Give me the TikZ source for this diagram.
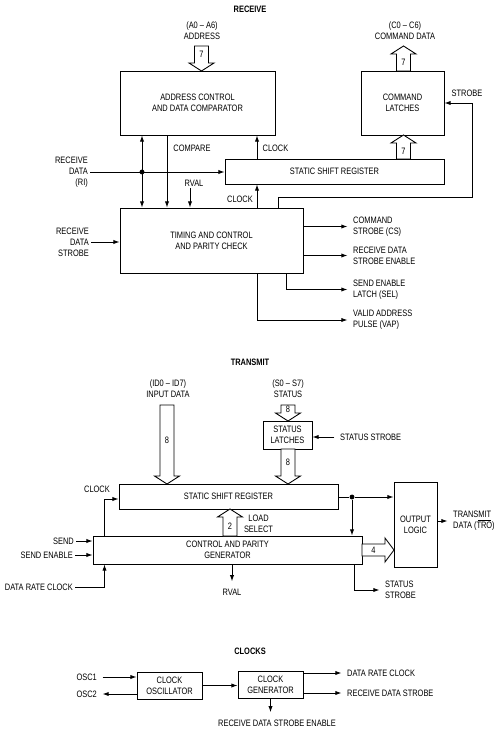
\documentclass[tikz,border=0pt]{standalone}
\usepackage{fontspec}
\setmainfont{Liberation Sans}[FakeStretch=0.8]
\usetikzlibrary{arrows.meta}

% hollow bus arrows: name, position, tail, tip, width label
\newcommand{\busdn}[5]{%
  \draw[fill=white] ({#2-7},#3) -- ({#2-7},{#4-8}) -- ({#2-12.5},{#4-8}) -- (#2,#4)
    -- ({#2+12.5},{#4-8}) -- ({#2+7},{#4-8}) -- ({#2+7},#3) -- cycle;
  \node (#1) at (#2,{(#3+#4-8)/2}) {#5};}
\newcommand{\busup}[5]{%
  \draw[fill=white] ({#2-7},#3) -- ({#2-7},{#4+8}) -- ({#2-12.5},{#4+8}) -- (#2,#4)
    -- ({#2+12.5},{#4+8}) -- ({#2+7},{#4+8}) -- ({#2+7},#3) -- cycle;
  \node (#1) at (#2,{(#3+#4+8)/2}) {#5};}
\newcommand{\busrt}[5]{%
  \draw[fill=white] (#3,{#2-6}) -- ({#4-9},{#2-6}) -- ({#4-9},{#2-12}) -- (#4,#2)
    -- ({#4-9},{#2+12}) -- ({#4-9},{#2+6}) -- (#3,{#2+6}) -- cycle;
  \node (#1) at ({(#3+#4-9)/2},#2) {#5};}

\begin{document}
\begin{tikzpicture}[x=0.02cm, y=-0.02cm, line width=0.5pt,
    >={Latex[length=3.5pt,width=2.4pt]},
    every node/.style={font=\fontsize{5.3}{6.3}\selectfont},
    blk/.style={draw, align=center, inner sep=0pt},
    lbl/.style={inner sep=1pt, align=center},
    ttl/.style={inner sep=0pt, font=\fontsize{5.3}{6.3}\selectfont\bfseries},
    junc/.style={circle, fill, inner sep=0pt, minimum size=2.8pt}]
  \useasboundingbox (0,0) rectangle (500,729);

  % receive
  \node[ttl] (trcv) at (250,9) {RECEIVE};
  \node[lbl] (adin) at (202,31) {(A0 -- A6)\\ADDRESS};
  \node[lbl] (cdout) at (405,31) {(C0 -- C6)\\COMMAND DATA};
  \node[blk, minimum width=3.1cm, minimum height=1.28cm] (addr) at (197.5,103) {ADDRESS CONTROL\\AND DATA COMPARATOR};
  \node[blk, minimum width=1.66cm, minimum height=1.28cm] (latch) at (402.5,103) {COMMAND\\LATCHES};
  \node[blk, minimum width=4.38cm, minimum height=0.5cm] (rsr) at (334.5,171.5) {STATIC SHIFT REGISTER};
  \node[blk, minimum width=3.66cm, minimum height=1.3cm] (timing) at (211.5,240.5) {TIMING AND CONTROL\\AND PARITY CHECK};
  \node[lbl, anchor=east, align=right] (ri) at (90,172) {RECEIVE\\DATA\\(RI)};
  \node[lbl, anchor=east, align=right] (rds) at (91,242) {RECEIVE\\DATA\\STROBE};
  \node[lbl] (cmp) at (192,148) {COMPARE};
  \node[lbl] (ck1) at (275.5,148) {CLOCK};
  \node[lbl] (ck2) at (240,199) {CLOCK};
  \node[lbl] (rv1) at (194,183) {RVAL};
  \node[lbl] (stb) at (467,93) {STROBE};
  \node[lbl, anchor=west, align=left] (cs) at (351,226.5) {COMMAND\\STROBE (CS)};
  \node[lbl, anchor=west, align=left] (rdse) at (351,255.5) {RECEIVE DATA\\STROBE ENABLE};
  \node[lbl, anchor=west, align=left] (sel) at (351,289.5) {SEND ENABLE\\LATCH (SEL)};
  \node[lbl, anchor=west, align=left] (vap) at (351,320) {VALID ADDRESS\\PULSE (VAP)};
  \node[junc] (j1) at (142,172) {};
  \coordinate (xcmp) at (167,0);
  \coordinate (xrv) at (190,0);
  \coordinate (xclk) at (257,0);
  \coordinate (xret) at (278,0);
  \coordinate (xsel) at (286,0);
  \coordinate (rtn) at (472,197);

  \busdn{b7a}{201.5}{46}{71}{7}
  \busup{b7b}{403.5}{71}{46}{7}
  \busup{b7c}{403.5}{159}{135}{7}

  \draw[->] (ri.east) -- (ri.east -| rsr.west);
  \draw[<->] (j1 |- addr.south) -- (j1 |- timing.north);
  \draw[->] (addr.south -| xcmp) -- (timing.north -| xcmp);
  \draw[->] (rv1.south -| xrv) -- (timing.north -| xrv);
  \draw[->] (timing.north -| xclk) -- (rsr.south -| xclk);
  \draw[->] (rsr.north -| xclk) -- (addr.south -| xclk);
  \draw[->] (timing.north -| xret) |- (rtn) |- (latch.east);
  \draw[->] (rds.east) -- (rds.east -| timing.west);
  \draw[->, shorten >=2pt] (timing.east |- cs.west) -- (cs.west);
  \draw[->, shorten >=2pt] (timing.east |- rdse.west) -- (rdse.west);
  \draw[->, shorten >=2pt] (timing.south -| xsel) |- (sel.west);
  \draw[->, shorten >=2pt] (timing.south -| xclk) |- (vap.west);

  % transmit
  \node[ttl] (ttx) at (250,362) {TRANSMIT};
  \node[lbl] (idin) at (168,388.5) {(ID0 -- ID7)\\INPUT DATA};
  \node[lbl] (stin) at (288,389) {(S0 -- S7)\\STATUS};
  \node[blk, minimum width=0.98cm, minimum height=0.56cm] (slat) at (287.5,435) {STATUS\\LATCHES};
  \node[lbl, anchor=west] (ststr) at (338,437) {STATUS STROBE};
  \node[blk, minimum width=4.38cm, minimum height=0.5cm] (tsr) at (228.5,496.5) {STATIC SHIFT REGISTER};
  \node[blk, minimum width=5.38cm, minimum height=0.56cm] (cpg) at (227.5,550) {CONTROL AND PARITY\\GENERATOR};
  \node[blk, minimum width=0.86cm, minimum height=1.7cm] (olog) at (415.5,524.5) {OUTPUT\\LOGIC};
  \node[lbl] (ck3) at (97,489) {CLOCK};
  \node[lbl] (ldsel) at (258.5,524) {LOAD\\SELECT};
  \node[lbl, anchor=east] (send) at (76,541) {SEND};
  \node[lbl, anchor=east] (sen) at (75,555) {SEND ENABLE};
  \node[lbl, anchor=east] (drc) at (75,587) {DATA RATE CLOCK};
  \node[lbl] (rv2) at (232,592) {RVAL};
  \node[lbl, anchor=west, align=left] (tro) at (451,521) {TRANS\underline{MIT}\\DATA (TRO)};
  \node[lbl, anchor=west, align=left] (sst) at (383,590) {STATUS\\STROBE};
  \node[junc] (j2) at (352,497) {};
  \coordinate (xck) at (104.5,0);
  \coordinate (xss) at (354,0);

  \busdn{b8a}{167}{405}{484}{8}
  \busdn{b8b}{288}{405}{421}{8}
  \busdn{b8c}{288}{449}{484}{8}
  \busup{b2}{230}{536}{509}{2}
  \busrt{b4}{550}{362}{394}{4}

  \draw[->, shorten <=2pt] (ststr.west) -- (ststr.west -| slat.east);
  \draw[->] (cpg.north -| xck) |- ([yshift=-0.5mm]tsr.west);
  \draw[->] (send.east) -- (send.east -| cpg.west);
  \draw[->] (sen.east) -- (sen.east -| cpg.west);
  \draw[->] (drc.east) -| (cpg.south -| xck);
  \draw[->, shorten >=3pt] (cpg.south -| rv2) -- (rv2.north);
  \draw (tsr.east |- j2) -- (j2);
  \draw[->] (j2) -- (j2 -| olog.west);
  \draw[->] (j2) -- (j2 |- cpg.north);
  \draw[->, shorten >=2pt] (olog.east |- tro.west) -- (tro.west);
  \draw[->, shorten >=2pt] (cpg.south -| xss) |- (sst.west);

  % clocks
  \node[ttl] (tclk) at (250,651) {CLOCKS};
  \node[blk, minimum width=1.3cm, minimum height=0.54cm] (osc) at (169.5,685.5) {CLOCK\\OSCILLATOR};
  \node[blk, minimum width=1.3cm, minimum height=0.54cm] (gen) at (270.5,684.5) {CLOCK\\GENERATOR};
  \node[lbl, anchor=east] (osc1) at (99,677) {OSC1};
  \node[lbl, anchor=east] (osc2) at (99,694) {OSC2};
  \node[lbl, anchor=west] (odrc) at (345,673) {DATA RATE CLOCK};
  \node[lbl, anchor=west] (ords) at (345,693) {RECEIVE DATA STROBE};
  \node[lbl] (ordse) at (277,723) {RECEIVE DATA STROBE ENABLE};
  \draw[->, shorten <=2pt] (osc1.east) -- (osc1.east -| osc.west);
  \draw[->, shorten >=2pt] (osc.west |- osc2.east) -- (osc2.east);
  \draw[->] (osc.east) -- (osc.east -| gen.west);
  \draw[->, shorten >=2pt] (gen.east |- odrc.west) -- (odrc.west);
  \draw[->, shorten >=2pt] (gen.east |- ords.west) -- (ords.west);
  \draw[->, shorten >=3pt] (gen.south) -- (gen.south |- ordse.north);
\end{tikzpicture}
\end{document}
